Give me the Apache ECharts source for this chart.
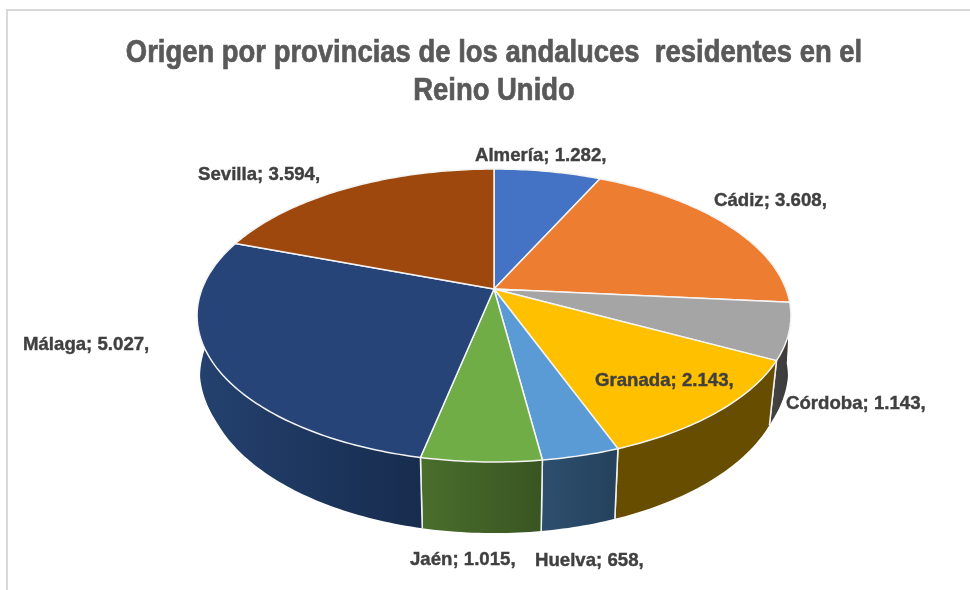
<!DOCTYPE html>
<html>
<head>
<meta charset="utf-8">
<title>Origen por provincias</title>
<script src="https://cdn.jsdelivr.net/npm/echarts@6/dist/echarts.min.js"></script>
<style>
  html, body { margin: 0; padding: 0; background: #fff; }
  #chart { width: 970px; height: 590px; }
</style>
</head>
<body>
<div id="chart"></div>
<script>
const titleLines = ['Origen por provincias de los andaluces  residentes en el', 'Reino Unido']
const provinces = ['Almería', 'Cádiz', 'Córdoba', 'Granada', 'Huelva', 'Jaén', 'Málaga', 'Sevilla']
const residents = [1282, 3608, 1143, 2143, 658, 1015, 5027, 3594]

const topColors = ['#4472c4', '#ed7d31', '#a5a5a5', '#ffc000', '#5b9bd5', '#70ad47', '#264478', '#9e480e']
const wallColors = [
  ['#2f5090', '#2f5090'], ['#a5561f', '#a5561f'], ['#444444', '#3a3a3a'], ['#664d00', '#664d00'],
  ['#2d4f6e', '#25415c'], ['#4a6e2c', '#395522'], ['#24416f', '#172c4e'], ['#6e320a', '#6e320a']
]
// left edge and middle of each label, in pixels
const labelSpots = [[475, 156], [714, 201], [786, 404], [595, 381], [535, 561], [410, 560], [23, 345], [198, 175]]

const FONT = '"Liberation Sans", sans-serif'

// perspective disc, fitted to the picture
const APEX_X = 494
const APEX_Y = 289
const RX = 292
const RY = 141.7
const TILT = 0.181

const total = residents.reduce((a, b) => a + b, 0)

function project(angle) {
  const u = Math.sin(angle)
  const v = -Math.cos(angle)
  const d = 1 - TILT * v
  return [APEX_X + RX * u / d, APEX_Y + RY * v / d]
}

function lower(p) {
  const front = Math.max(0, (p[1] - 315) / 147)
  const shrink = 0.99 - Math.min(0.015, 0.05 * front)
  return [APEX_X + (p[0] - APEX_X) * shrink, APEX_Y + 60 + (p[1] - APEX_Y) * 1.064]
}

function sliceAngles(index) {
  const before = residents.slice(0, index).reduce((a, b) => a + b, 0)
  return [before / total * Math.PI * 2, (before + residents[index]) / total * Math.PI * 2]
}

function rim(index) {
  const [a0, a1] = sliceAngles(index)
  const steps = Math.max(8, Math.ceil((a1 - a0) * 60))
  const pts = []
  for (let i = 0; i <= steps; i++) {
    pts.push(project(a0 + (a1 - a0) * i / steps))
  }
  return pts
}

function renderWall(params) {
  const i = params.dataIndex
  const top = rim(i)
  const bottom = top.map(lower).reverse()
  const children = [{
    type: 'polygon',
    shape: { points: top.concat(bottom) },
    style: {
      fill: {
        type: 'linear', x: 0, y: 0, x2: 1, y2: 0,
        colorStops: [
          { offset: 0, color: wallColors[i][0] },
          { offset: 1, color: wallColors[i][1] }
        ]
      }
    }
  }]
  // seams only where the wall faces us
  ;[top[0], top[top.length - 1]].forEach(p => {
    if (p[1] > APEX_Y + 30) {
      const q = lower(p)
      children.push({
        type: 'line',
        shape: { x1: p[0], y1: p[1], x2: q[0], y2: q[1] },
        style: { stroke: '#f2f2f2', lineWidth: 1.5 }
      })
    }
  })
  return { type: 'group', children }
}

function renderTop(params) {
  const i = params.dataIndex
  return {
    type: 'polygon',
    shape: { points: [[APEX_X, APEX_Y]].concat(rim(i)) },
    style: { fill: topColors[i], stroke: '#f4f4f4', lineWidth: 1.5, lineJoin: 'round' }
  }
}

function formatValue(value) {
  return String(value).replace(/\B(?=(\d{3})+$)/g, '.')
}

function renderLabel(params) {
  const i = params.dataIndex
  return {
    type: 'text',
    x: labelSpots[i][0],
    y: labelSpots[i][1],
    scaleX: 0.98,
    style: {
      text: `${provinces[i]}; ${formatValue(residents[i])},`,
      font: `bold 19px ${FONT}`,
      fill: '#404040',
      stroke: '#404040',
      lineWidth: 0.4,
      textAlign: 'left',
      textVerticalAlign: 'middle'
    }
  }
}

const rows = residents.map((value, index) => [index, value])
const chart = echarts.init(document.getElementById('chart'), null, { renderer: 'canvas' })

chart.setOption({
  animation: false,
  backgroundColor: '#fff',
  graphic: [
    {
      type: 'polyline',
      shape: { points: [[7, 590], [7, 10], [970, 10]] },
      style: { stroke: '#d9d9d9', lineWidth: 2, fill: 'none' }
    },
    ...titleLines.map((line, index) => ({
      type: 'text',
      x: 494,
      y: 53 + index * 38,
      scaleX: 0.885,
      style: {
        text: line,
        font: `bold 31px ${FONT}`,
        fill: '#595959',
        stroke: '#595959',
        lineWidth: 0.7,
        textAlign: 'center',
        textVerticalAlign: 'middle'
      }
    }))
  ],
  series: [
    { type: 'custom', coordinateSystem: 'none', z: 1, data: rows, renderItem: renderWall, silent: true },
    { type: 'custom', coordinateSystem: 'none', z: 2, data: rows, renderItem: renderTop, silent: true },
    { type: 'custom', coordinateSystem: 'none', z: 3, data: rows, renderItem: renderLabel, silent: true }
  ]
})
</script>
</body>
</html>
